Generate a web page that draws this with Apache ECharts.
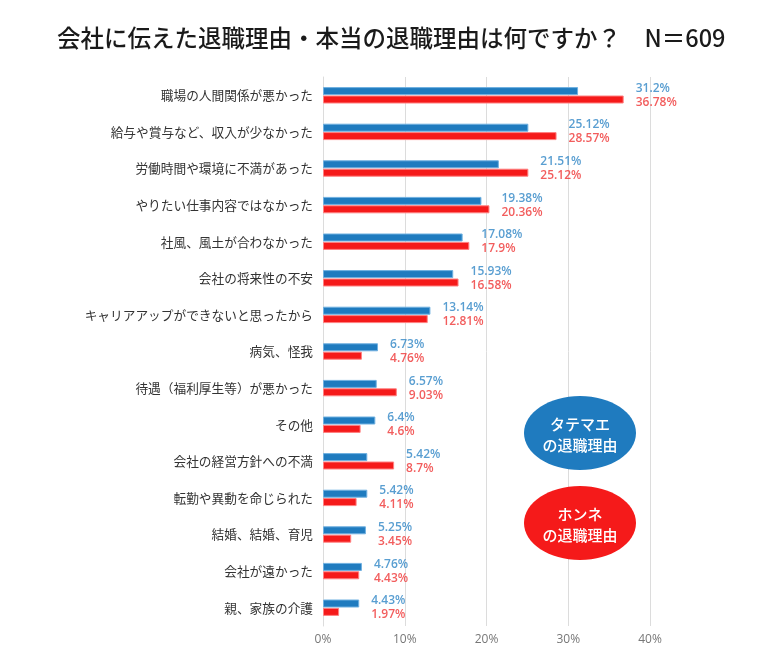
<!DOCTYPE html>
<html>
<head>
<meta charset="utf-8">
<script src="https://cdn.jsdelivr.net/npm/echarts@6/dist/echarts.min.js"></script>
<style>
html,body{margin:0;padding:0;background:#fff;}
#chart{width:763px;height:670px;}
</style>
</head>
<body>
<div id="chart"></div>
<script>
const categories = [
  '職場の人間関係が悪かった',
  '給与や賞与など、収入が少なかった',
  '労働時間や環境に不満があった',
  'やりたい仕事内容ではなかった',
  '社風、風土が合わなかった',
  '会社の将来性の不安',
  'キャリアアップができないと思ったから',
  '病気、怪我',
  '待遇（福利厚生等）が悪かった',
  'その他',
  '会社の経営方針への不満',
  '転勤や異動を命じられた',
  '結婚、結婚、育児',
  '会社が遠かった',
  '親、家族の介護'
];
const tatemae = [31.2, 25.12, 21.51, 19.38, 17.08, 15.93, 13.14, 6.73, 6.57, 6.4, 5.42, 5.42, 5.25, 4.76, 4.43];
const honne   = [36.78, 28.57, 25.12, 20.36, 17.9, 16.58, 12.81, 4.76, 9.03, 4.6, 8.7, 4.11, 3.45, 4.43, 1.97];
const xTicks = [0, 10, 20, 30, 40];
const titleText = '会社に伝えた退職理由・本当の退職理由は何ですか？　N＝609';

const BLUE = '#1f7bbf';
const RED = '#f51a1a';
const CJK = '"Noto Sans CJK JP", "Noto Sans", sans-serif';
const LAT = '"Open Sans", "Noto Sans CJK JP", sans-serif';

const labelPoints = categories.map((c, i) => ({
  value: [Math.max(tatemae[i], honne[i]), i],
  t: tatemae[i], h: honne[i]
}));

const chart = echarts.init(document.getElementById('chart'), null, {renderer: 'canvas'});
chart.setOption({
  backgroundColor: '#fff',
  animation: false,
  title: {
    text: titleText,
    left: 52,
    top: 21,
    textStyle: {fontFamily: CJK, fontSize: 23.5, fontWeight: 500, color: '#1a1a1a'}
  },
  grid: {left: 323, right: 113, top: 77, bottom: 44, containLabel: false},
  xAxis: {
    type: 'value',
    min: xTicks[0], max: xTicks[xTicks.length - 1], interval: 10,
    axisLine: {show: false},
    axisTick: {show: false},
    splitLine: {lineStyle: {color: '#dcdcdc', width: 1}},
    axisLabel: {formatter: '{value}%', color: '#777', fontFamily: LAT, fontSize: 12, margin: 8}
  },
  yAxis: {
    type: 'category',
    data: categories,
    inverse: true,
    axisLine: {show: true, lineStyle: {color: '#dcdcdc'}},
    axisTick: {show: false},
    axisLabel: {color: '#333', fontFamily: CJK, fontSize: 12.7, margin: 10}
  },
  series: [
    {
      name: 'タテマエ', type: 'bar', data: tatemae,
      barWidth: 8, barGap: '5%',
      itemStyle: {color: BLUE, borderColor: '#6fb0e0', borderWidth: 1}
    },
    {
      name: 'ホンネ', type: 'bar', data: honne,
      barWidth: 8, barGap: '5%',
      itemStyle: {color: RED, borderColor: '#ff8080', borderWidth: 1}
    },
    {
      type: 'scatter', data: labelPoints, symbolSize: 0, silent: true,
      label: {
        show: true, position: 'right', distance: 12,
        formatter: p => '{b|' + p.data.t + '%}\n{r|' + p.data.h + '%}',
        rich: {
          b: {color: '#2f86c6', fontFamily: LAT, fontSize: 12, fontWeight: 600, lineHeight: 14},
          r: {color: '#ef3535', fontFamily: LAT, fontSize: 12, fontWeight: 600, lineHeight: 14}
        }
      }
    }
  ],
  graphic: [
    {type: 'ellipse', shape: {cx: 580, cy: 433, rx: 56, ry: 37}, style: {fill: BLUE}, z: 10},
    {type: 'text', x: 580, y: 435, z: 11, style: {text: 'タテマエ\nの退職理由', fill: '#fff', font: '500 15px "Noto Sans CJK JP"', align: 'center', verticalAlign: 'middle', lineHeight: 21}},
    {type: 'ellipse', shape: {cx: 580, cy: 523, rx: 56, ry: 37}, style: {fill: RED}, z: 10},
    {type: 'text', x: 580, y: 525, z: 11, style: {text: 'ホンネ\nの退職理由', fill: '#fff', font: '500 15px "Noto Sans CJK JP"', align: 'center', verticalAlign: 'middle', lineHeight: 21}}
  ]
});
</script>
</body>
</html>
